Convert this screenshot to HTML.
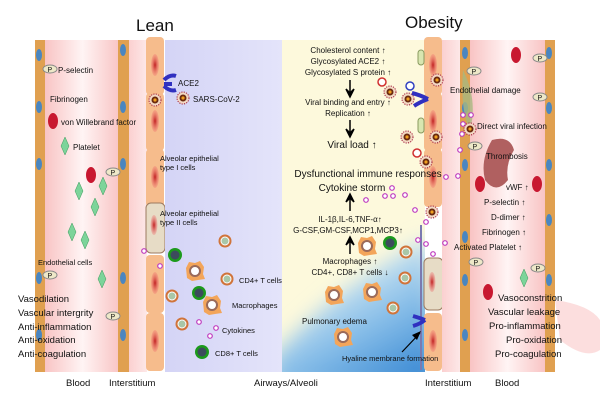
<!DOCTYPE html>
<html><head><meta charset="utf-8"><style>
body{margin:0;background:#fff}
svg{display:block}
text{font-family:"Liberation Sans",sans-serif;fill:#111}
</style></head><body>
<svg width="600" height="400" viewBox="0 0 600 400" xmlns="http://www.w3.org/2000/svg">
<defs>
<linearGradient id="vess" x1="0" x2="1"><stop offset="0" stop-color="#f7b7b7"/><stop offset="0.5" stop-color="#fff4f4"/><stop offset="1" stop-color="#f7b7b7"/></linearGradient>
<linearGradient id="inter" x1="0" x2="1"><stop offset="0" stop-color="#fbd0d0"/><stop offset="1" stop-color="#fde8e8"/></linearGradient>
<linearGradient id="lav" x1="0" x2="1"><stop offset="0" stop-color="#d4d4f6"/><stop offset="1" stop-color="#e4e4fa"/></linearGradient>
<linearGradient id="blue" x1="0.9" y1="1" x2="0.4" y2="0.2"><stop offset="0" stop-color="#2a7fd0"/><stop offset="0.55" stop-color="#86bde8"/><stop offset="1" stop-color="#d8ecf4"/></linearGradient>
<filter id="blur" x="-20%" y="-20%" width="140%" height="140%"><feGaussianBlur stdDeviation="10"/></filter>
<clipPath id="yc"><rect x="282" y="40" width="143" height="332"/></clipPath>
<radialGradient id="red" cx="0.5" cy="0.5" r="0.5"><stop offset="0" stop-color="#c02020"/><stop offset="1" stop-color="#f07070" stop-opacity="0.3"/></radialGradient>
<g id="cell"><rect x="-9" y="0" width="18" height="58" rx="4" fill="#f6bc8c"/><ellipse cx="0" cy="28" rx="4" ry="11" fill="url(#red)"/></g>
<g id="mac"><path d="M-9,-3 L-6,-9 L0,-8 L5,-10 L9,-4 L8,3 L10,8 L3,9 L-3,10 L-8,7 Z" fill="#f3a55a"/><circle r="5" fill="#fff" stroke="#9a6a5a" stroke-width="2"/></g>
<g id="t4"><circle r="6.5" fill="#d0743a"/><circle r="4" fill="#a9c7a8" stroke="#fff" stroke-width="1"/></g>
<g id="t8"><circle r="7" fill="#1c9a1c"/><circle r="4.5" fill="#3c4c5c"/></g>
<g id="vir"><circle r="6" fill="#f3d9c4" stroke="#a01d3a" stroke-dasharray="1.2,1.2"/><circle r="3.5" fill="#6a2a10"/><circle r="1.6" fill="#f0a020"/></g>
<g id="plt"><path d="M0,-9 L4,0 L0,9 L-4,0Z" fill="#7cd49a" stroke="#3a9a5a" stroke-width="0.5"/></g>
<g id="P"><ellipse rx="7" ry="4" fill="#eee8c8" stroke="#888"/><text x="-2.5" y="3" font-size="7">P</text></g>
<g id="vwf"><ellipse rx="5" ry="8" fill="#c81830"/></g>
<g id="cyt"><circle r="2.3" fill="#fff" stroke="#c040c0" stroke-width="1.2"/></g>
<g id="nuc"><ellipse rx="3" ry="6" fill="#4a86c0"/></g>
</defs>

<rect x="35" y="40" width="95" height="332" fill="url(#vess)"/>
<rect x="35" y="40" width="10" height="332" fill="#e0a050"/>
<rect x="118" y="40" width="11" height="332" fill="#e0a050"/>
<rect x="129" y="40" width="18" height="332" fill="url(#inter)"/>
<g>
<use href="#nuc" x="39" y="55"/><use href="#nuc" x="39" y="107"/><use href="#nuc" x="39" y="164"/><use href="#nuc" x="39" y="278"/><use href="#nuc" x="39" y="335"/>
<use href="#nuc" x="123" y="50"/><use href="#nuc" x="123" y="107"/><use href="#nuc" x="123" y="164"/><use href="#nuc" x="123" y="278"/><use href="#nuc" x="123" y="335"/>
</g>
<use href="#cell" x="155" y="37"/><use href="#cell" x="155" y="93"/><use href="#cell" x="155" y="149"/>
<rect x="146" y="203" width="19" height="50" rx="5" fill="#e7dcc6" stroke="#9c7a60"/><ellipse cx="154" cy="225" rx="3.5" ry="10" fill="url(#red)"/>
<use href="#cell" x="155" y="255"/><use href="#cell" x="155" y="313"/>
<rect x="165" y="40" width="117" height="332" fill="url(#lav)"/>
<rect x="282" y="40" width="143" height="332" fill="#fdf9dc"/>
<g clip-path="url(#yc)"><path d="M270,360 Q320,305 360,280 Q395,255 430,238 L440,390 L270,390 Z" fill="url(#blue)" filter="url(#blur)"/></g>
<use href="#cell" x="433" y="37"/><use href="#cell" x="433" y="93"/><use href="#cell" x="433" y="149"/>
<rect x="424" y="258" width="19" height="52" rx="5" fill="#e7dcc6" stroke="#9c7a60"/><ellipse cx="432" cy="282" rx="3.5" ry="10" fill="url(#red)"/>
<use href="#cell" x="433" y="313"/>
<line x1="421" y1="225" x2="421" y2="370" stroke="#7a7ab0" stroke-width="2"/>
<rect x="442" y="40" width="18" height="332" fill="url(#inter)"/>
<rect x="460" y="40" width="95" height="332" fill="url(#vess)"/>
<rect x="460" y="40" width="10" height="332" fill="#e0a050"/>
<rect x="545" y="40" width="10" height="332" fill="#e0a050"/>
<path d="M555,300 Q590,305 600,320 L600,350 Q585,360 560,340 Z" fill="#fbd6d6" opacity="0.8"/>
<use href="#nuc" x="465" y="53"/><use href="#nuc" x="465" y="108"/><use href="#nuc" x="465" y="165"/><use href="#nuc" x="465" y="237"/><use href="#nuc" x="465" y="280"/><use href="#nuc" x="465" y="335"/>
<use href="#nuc" x="549" y="53"/><use href="#nuc" x="549" y="108"/><use href="#nuc" x="549" y="165"/><use href="#nuc" x="549" y="220"/><use href="#nuc" x="549" y="280"/>
<path d="M463,70 Q478,100 470,130 Q460,110 463,70Z" fill="#a8b880" opacity="0.8"/>
<path d="M492,140 Q510,135 514,150 Q505,165 508,180 Q496,195 485,180 Q480,160 492,140Z" fill="#b06060"/>

<text x="136" y="31" font-size="17">Lean</text>
<text x="405" y="28" font-size="17">Obesity</text>

<use href="#P" x="50" y="69"/><text x="58" y="73" font-size="8">P-selectin</text>
<text x="50" y="102" font-size="8">Fibrinogen</text>
<use href="#vwf" x="53" y="121"/><text x="61" y="125" font-size="8">von Willebrand factor</text>
<use href="#plt" x="65" y="146"/><text x="73" y="150" font-size="8">Platelet</text>
<use href="#vwf" x="91" y="175"/><use href="#P" x="113" y="172"/>
<use href="#plt" x="79" y="191"/><use href="#plt" x="103" y="186"/><use href="#plt" x="95" y="207"/><use href="#plt" x="72" y="232"/><use href="#plt" x="85" y="240"/><use href="#plt" x="102" y="279"/>
<text x="38" y="265" font-size="7.5">Endothelial cells</text>
<use href="#P" x="50" y="275"/><use href="#P" x="113" y="316"/>
<text x="18" y="302" font-size="9.5">Vasodilation</text>
<text x="18" y="316" font-size="9.5">Vascular intergrity</text>
<text x="18" y="330" font-size="9.5">Anti-inflammation</text>
<text x="18" y="343" font-size="9.5">Anti-oxidation</text>
<text x="18" y="357" font-size="9.5">Anti-coagulation</text>

<path d="M164,80 Q170,74 176,76 M164,84 L172,84 M164,86 Q170,92 176,90" stroke="#3030c0" stroke-width="4" fill="none"/>
<text x="178" y="86" font-size="8">ACE2</text>
<use href="#vir" x="155" y="100"/><use href="#vir" x="183" y="98"/>
<text x="193" y="102" font-size="8">SARS-CoV-2</text>
<text x="160" y="161" font-size="7.5">Alveolar epithelial</text>
<text x="160" y="170" font-size="7.5">type I cells</text>
<text x="160" y="216" font-size="7.5">Alveolar epithelial</text>
<text x="160" y="225" font-size="7.5">type II cells</text>
<use href="#t4" x="225" y="241"/><use href="#t8" x="175" y="255"/><use href="#mac" x="195" y="271"/>
<use href="#t4" x="227" y="279"/><text x="239" y="283" font-size="7.5">CD4+ T cells</text>
<use href="#t4" x="172" y="296"/><use href="#t8" x="199" y="293"/><use href="#mac" x="212" y="305"/>
<text x="232" y="308" font-size="7.5">Macrophages</text>
<use href="#t4" x="182" y="324"/><use href="#cyt" x="199" y="322"/><use href="#cyt" x="216" y="328"/><use href="#cyt" x="210" y="336"/>
<text x="222" y="333" font-size="7.5">Cytokines</text>
<use href="#t8" x="202" y="352"/><text x="215" y="356" font-size="7.5">CD8+ T cells</text>
<use href="#cyt" x="144" y="251"/><use href="#cyt" x="160" y="266"/>

<g font-size="8" text-anchor="middle">
<text x="348" y="53">Cholesterol content ↑</text>
<text x="348" y="64">Glycosylated ACE2 ↑</text>
<text x="348" y="75">Glycosylated S protein ↑</text>
<text x="348" y="105">Viral binding and entry ↑</text>
<text x="348" y="116">Replication ↑</text>
<text x="352" y="148" font-size="10">Viral load ↑</text>
<text x="368" y="177" font-size="10">Dysfunctional immune responses</text>
<text x="352" y="191" font-size="10">Cytokine storm</text>
<text x="350" y="222">IL-1β,IL-6,TNF-α↑</text>
<text x="348" y="233">G-CSF,GM-CSF,MCP1,MCP3↑</text>
<text x="350" y="264">Macrophages ↑</text>
<text x="350" y="275">CD4+, CD8+ T cells ↓</text>
</g>
<g stroke="#000" stroke-width="1.5" fill="#000">
<line x1="350" y1="80" x2="350" y2="95"/><path d="M346,89 L350,97 L354,89 L350,93Z"/>
<line x1="350" y1="120" x2="350" y2="135"/><path d="M346,129 L350,137 L354,129 L350,133Z"/>
<line x1="350" y1="211" x2="350" y2="196"/><path d="M346,202 L350,194 L354,202 L350,198Z"/>
<line x1="350" y1="254" x2="350" y2="239"/><path d="M346,245 L350,237 L354,245 L350,241Z"/>
</g>
<use href="#vir" x="390" y="92"/><use href="#vir" x="408" y="99"/><use href="#vir" x="407" y="137"/><use href="#vir" x="436" y="137"/><use href="#vir" x="426" y="162"/><use href="#vir" x="437" y="80"/><use href="#vir" x="432" y="212"/>
<circle cx="382" cy="82" r="4" fill="#fff" stroke="#d03030" stroke-width="1.5"/><circle cx="410" cy="86" r="4" fill="#fff" stroke="#3040c0" stroke-width="1.5"/><circle cx="417" cy="153" r="4" fill="#fff" stroke="#d03030" stroke-width="1.5"/>
<path d="M412,93 Q420,95 428,99 M414,106 Q420,102 428,99" stroke="#3030c0" stroke-width="4" fill="none"/>
<rect x="418" y="50" width="6" height="15" rx="3" fill="#d8e6b0" stroke="#8a9a60"/><rect x="418" y="118" width="6" height="15" rx="3" fill="#d8e6b0" stroke="#8a9a60"/>
<use href="#mac" x="367" y="246"/><use href="#t8" x="390" y="243"/><use href="#t4" x="406" y="252"/>
<use href="#mac" x="334" y="295"/><use href="#mac" x="372" y="292"/><use href="#t4" x="405" y="278"/><use href="#t4" x="393" y="308"/><use href="#mac" x="343" y="337"/>
<text x="302" y="324" font-size="8">Pulmonary edema</text>
<path d="M413,316 Q420,318 425,320 M413,326 Q420,324 425,320" stroke="#3030c0" stroke-width="4" fill="none"/>
<line x1="402" y1="352" x2="420" y2="333" stroke="#000" stroke-width="1.2"/><path d="M421,331 L412,335 L417,340Z"/>
<text x="342" y="361" font-size="7.5">Hyaline membrane formation</text>
<g>
<use href="#cyt" x="392" y="188"/><use href="#cyt" x="385" y="196"/><use href="#cyt" x="393" y="196"/><use href="#cyt" x="405" y="195"/><use href="#cyt" x="366" y="200"/><use href="#cyt" x="415" y="210"/><use href="#cyt" x="418" y="240"/><use href="#cyt" x="426" y="222"/><use href="#cyt" x="433" y="254"/><use href="#cyt" x="426" y="244"/><use href="#cyt" x="445" y="243"/><use href="#cyt" x="460" y="150"/><use href="#cyt" x="458" y="176"/><use href="#cyt" x="446" y="177"/><use href="#cyt" x="463" y="115"/><use href="#cyt" x="471" y="115"/><use href="#cyt" x="463" y="124"/><use href="#cyt" x="462" y="134"/>
</g>

<use href="#vwf" x="516" y="55"/><use href="#P" x="540" y="58"/><use href="#P" x="474" y="71"/><use href="#P" x="540" y="97"/><use href="#P" x="475" y="146"/>
<use href="#vir" x="470" y="129"/>
<text x="450" y="93" font-size="8">Endothelial damage</text>
<text x="477" y="129" font-size="8">Direct viral infection</text>
<text x="486" y="159" font-size="8">Thrombosis</text>
<use href="#vwf" x="480" y="184"/><use href="#vwf" x="537" y="184"/>
<text x="506" y="190" font-size="8">vWF ↑</text>
<text x="484" y="205" font-size="8">P-selectin ↑</text>
<text x="491" y="220" font-size="8">D-dimer ↑</text>
<text x="482" y="235" font-size="8">Fibrinogen ↑</text>
<text x="454" y="250" font-size="8">Activated Platelet ↑</text>
<use href="#P" x="476" y="262"/><use href="#P" x="538" y="268"/><use href="#plt" x="524" y="278"/>
<use href="#vwf" x="488" y="292"/>
<text x="498" y="301" font-size="9.5">Vasoconstrition</text>
<text x="488" y="315" font-size="9.5">Vascular leakage</text>
<text x="489" y="329" font-size="9.5">Pro-inflammation</text>
<text x="506" y="343" font-size="9.5">Pro-oxidation</text>
<text x="495" y="357" font-size="9.5">Pro-coagulation</text>

<text x="66" y="386" font-size="9.5">Blood</text>
<text x="109" y="386" font-size="9.5">Interstitium</text>
<text x="254" y="386" font-size="9.5">Airways/Alveoli</text>
<text x="425" y="386" font-size="9.5">Interstitium</text>
<text x="495" y="386" font-size="9.5">Blood</text>
</svg>
</body></html>
